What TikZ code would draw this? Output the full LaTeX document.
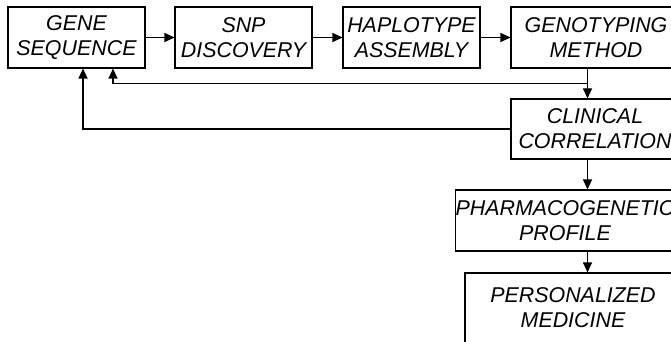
\documentclass[tikz,border=0pt]{standalone}
\usepackage{fontspec}
\setmainfont{Liberation Sans}
\usetikzlibrary{arrows.meta,calc}

\begin{document}
\begin{tikzpicture}[x=1pt,y=-1pt,
        box/.style={draw,line width=1.1pt,align=center,inner sep=0pt,
                    font=\fontsize{21.4}{25}\selectfont\itshape},
        arr/.style={-{Triangle[length=10pt,width=9pt]},line width=1.1pt}]
                \useasboundingbox (0,0) rectangle (671,342);
                \node[box,minimum width=137,minimum height=61] (gene) at (76.5,37.5) {GENE\\SEQUENCE};
                \node[box,minimum width=137,minimum height=61] (snp) at (243.5,37.5) {SNP\\DISCOVERY};
                \node[box,minimum width=137,minimum height=61] (hap) at (411.5,37.5) {HAPLOTYPE\\ASSEMBLY};
                \node[box,minimum width=170,minimum height=61] (geno) at (596,37.5) {GENOTYPING\\METHOD};
                \node[box,minimum width=168,minimum height=60] (clin) at (595,129) {CLINICAL\\CORRELATION};
                \node[box,minimum width=218,minimum height=61] (pharma) at (565,220.5) {PHARMACOGENETIC\\PROFILE};
                \node[box,minimum width=216,minimum height=70] (pers) at (573,308) {PERSONALIZED\\MEDICINE};
                \coordinate (col) at (587.5,0);
                \draw[arr] (gene) -- (snp);
                \draw[arr] (snp) -- (hap);
                \draw[arr] (hap) -- (geno);
                \draw[arr] (geno.south -| col) -- (clin.north -| col);
                \draw[arr] (clin.south -| col) -- (pharma.north -| col);
                \draw[arr] (pharma.south -| col) -- (pers.north -| col);
                % back to the gene sequence
                \draw[arr] ($(geno.south -| col)!.5!(clin.north -| col)$) -| ($(gene.south)+(36.5,0)$);
                \draw[arr] (clin.west) -| ($(gene.south)+(6.5,0)$);
            \end{tikzpicture}
\end{document}
